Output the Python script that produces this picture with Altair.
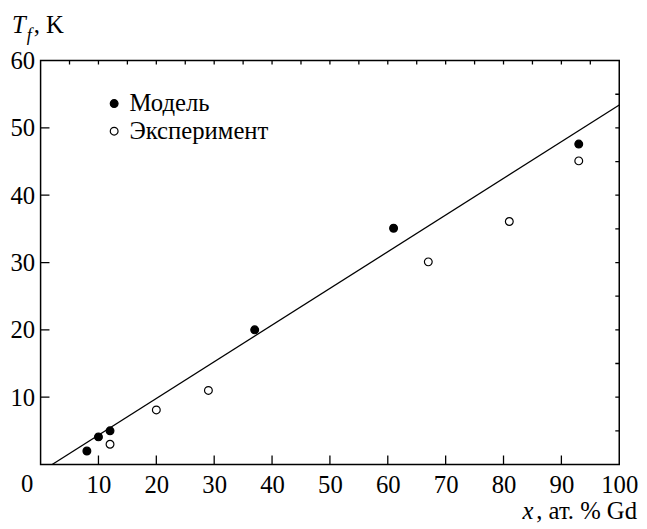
import altair as alt
import pandas as pd

# ---- data ----
series = ["Модель", "Эксперимент"]
model_x = [8, 10, 12, 37, 61, 93]
model_y = [2.0, 4.1, 5.0, 20.0, 35.1, 47.6]
exp_x = [12, 20, 29, 67, 81, 93]
exp_y = [3.0, 8.1, 11.0, 30.1, 36.1, 45.1]
fit_x = [2.0, 100]
fit_y = [0.0, 53.4]

x_labels = [10, 20, 30, 40, 50, 60, 70, 80, 90, 100]
y_labels = [10, 20, 30, 40, 50, 60]
x_major = [10, 20, 30, 40, 50, 60, 70, 80, 90]
y_major = [10, 20, 30, 40, 50]
x_minor = [5, 10, 15, 20, 25, 30, 35, 40, 45, 50, 55, 60, 65, 70, 75, 80, 85, 90, 95]
y_minor = [5, 10, 15, 20, 25, 30, 35, 40, 45, 50, 55]

FONT = "Liberation Serif, Times New Roman, Times, DejaVu Serif, serif"
FS = 25
W, H = 586, 409

pts = pd.DataFrame({
    "x": model_x + exp_x,
    "y": model_y + exp_y,
    "s": [series[0]] * len(model_x) + [series[1]] * len(exp_x),
})
fit = pd.DataFrame({"x": fit_x, "y": fit_y})

xs = alt.Scale(domain=[0, 100], nice=False, zero=False)
ys = alt.Scale(domain=[0, 60], nice=False, zero=False)

x_axis = alt.Axis(values=x_labels, ticks=False, domain=False, grid=False,
                  labelFont=FONT, labelFontSize=FS, labelColor="black",
                  labelPadding=8, title=None, labelFlush=False, labelOverlap=False)
y_axis = alt.Axis(values=y_labels, ticks=False, domain=False, grid=False,
                  labelFont=FONT, labelFontSize=FS, labelColor="black",
                  labelPadding=6, title=None, labelFlush=False, labelOverlap=False)

def X():
    return alt.X("x:Q", scale=xs, axis=x_axis)

def Y():
    return alt.Y("y:Q", scale=ys, axis=y_axis)

line = alt.Chart(fit).mark_line(color="black", strokeWidth=1.3, clip=True).encode(
    x=X(), y=Y()
)

points = alt.Chart(pts).mark_point(shape="circle", size=62, stroke="black",
                                   strokeWidth=1.2, opacity=1).encode(
    x=X(), y=Y(),
    fill=alt.Fill("s:N", scale=alt.Scale(domain=series, range=["black", "white"]),
                  legend=alt.Legend(orient="none", legendX=62, legendY=31,
                                    title=None,
                                    labelFont=FONT, labelFontSize=FS, labelColor="black",
                                    symbolType="circle", symbolSize=62,
                                    symbolStrokeColor="black", symbolStrokeWidth=1.2,
                                    labelOffset=3, rowPadding=2, padding=0)),
)

def ticks(xv, yv, orient, size):
    df = pd.DataFrame({"x": xv, "y": yv})
    return alt.Chart(df).mark_tick(orient=orient, size=size, thickness=1.3,
                                   color="black", clip=True, opacity=1).encode(
        x=X(), y=Y()
    )

t_bottom = ticks(x_major, [0] * len(x_major), "vertical", 18)
t_top = ticks(x_minor, [60] * len(x_minor), "vertical", 8)
t_left = ticks([0] * len(y_major), y_major, "horizontal", 18)
t_right = ticks([100] * len(y_minor), y_minor, "horizontal", 8)

zero = alt.Chart(pd.DataFrame({"x": [0], "y": [0], "t": ["0"]})).mark_text(
    font=FONT, fontSize=FS, color="black", dx=-13.5, dy=8, baseline="top", align="center"
).encode(x=X(), y=Y(), text="t:N")

def label(txt, px, py, size=FS, style="normal", align="left"):
    return alt.Chart(pd.DataFrame({"t": [txt]})).mark_text(
        font=FONT, fontSize=size, fontStyle=style, color="black",
        align=align, baseline="alphabetic"
    ).encode(x=alt.value(px), y=alt.value(py), text="t:N")

yt1 = label("T", -29, -28, FS, "italic")
yt2 = label("f", -14, -20, 18, "italic")
yt3 = label(", K", -7, -28, FS)
xt1 = label("x", 499, 464, FS, "italic", align="right")
xt2 = label(", ат. % Gd", 604, 464, FS, align="right")

chart = alt.layer(
    line, t_bottom, t_top, t_left, t_right, points, zero, yt1, yt2, yt3, xt1, xt2
).properties(
    width=W, height=H,
    autosize=alt.AutoSizeParams(type="none"),
    padding={"left": 33, "top": 50, "right": 20, "bottom": 56},
    background="white",
).configure_view(
    stroke="black", strokeWidth=1.5
).configure_legend(
    labelFont=FONT, labelFontSize=FS, labelColor="black"
)

chart.save("out.html", embed_options={"renderer": "svg", "actions": False})
